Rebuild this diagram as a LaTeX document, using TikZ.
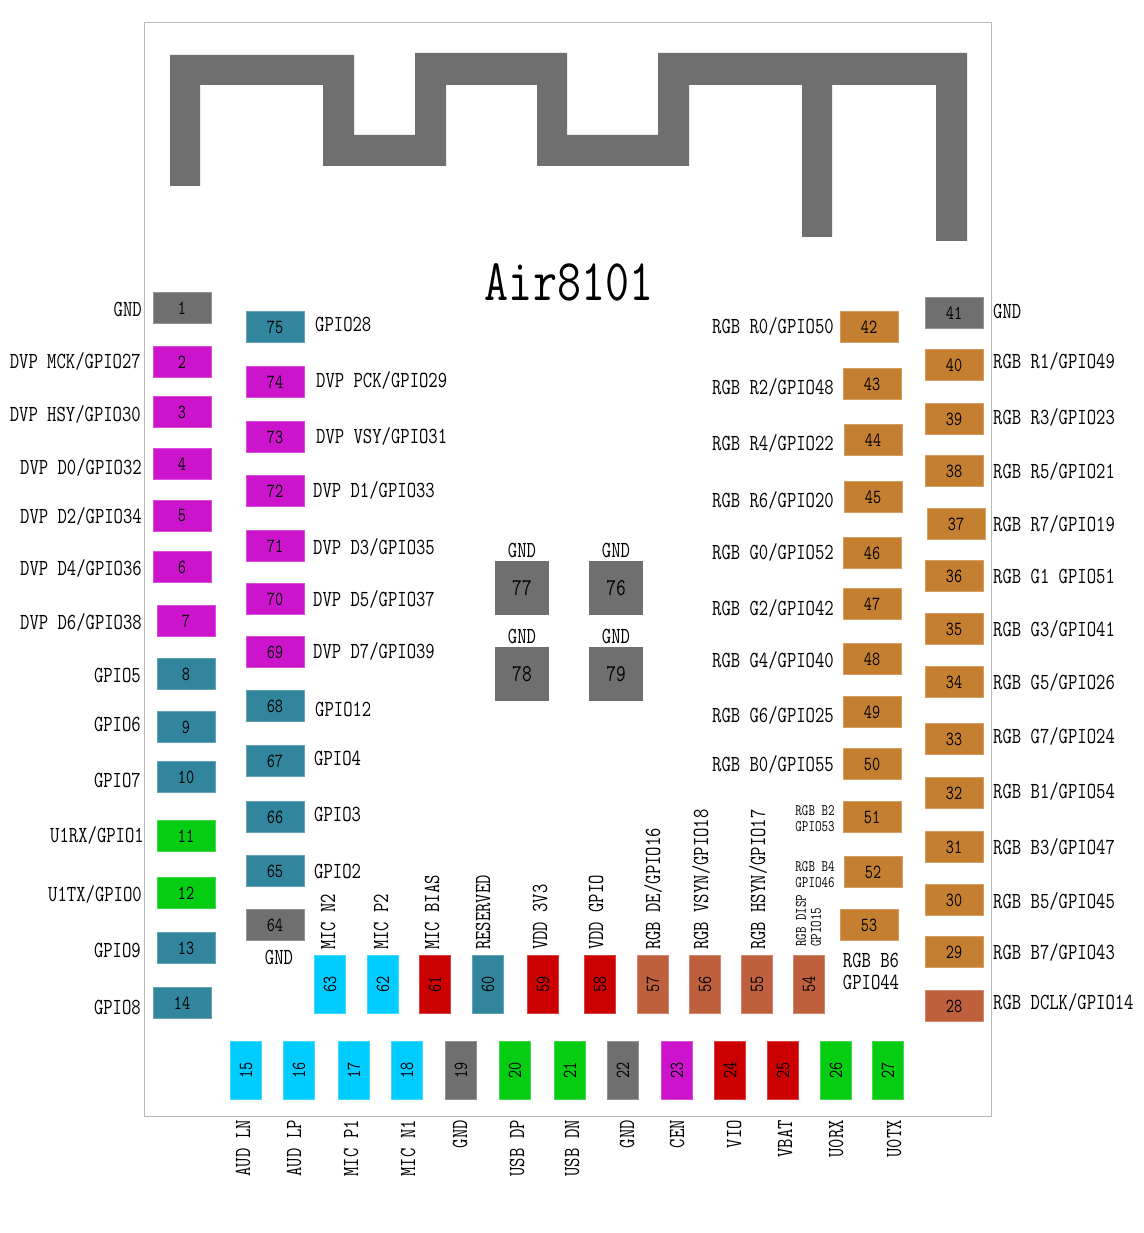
\documentclass[tikz,border=0pt]{standalone}
\usepackage{fontspec}
\newfontfamily\pinfont[FakeStretch=0.79]{Latin Modern Mono}
\definecolor{padgray}{HTML}{6F6F6F}
\definecolor{padpink}{HTML}{CC14CC}
\definecolor{padteal}{HTML}{31859C}
\definecolor{padgreen}{HTML}{04CD12}
\definecolor{padred}{HTML}{CC0000}
\definecolor{padorange}{HTML}{C47F31}
\definecolor{padbrown}{HTML}{BE5F3D}
\definecolor{padcyan}{HTML}{00CCFF}

\begin{document}
\begin{tikzpicture}[
		x=1pt,
		y=-1pt,
		pad/.style={
		  fill=#1,
		  draw=#1!75!white,
		  line width=0.8pt,
		  inner sep=0pt,
		  minimum width=58pt,
		  minimum height=31pt,
		  font=\pinfont\fontsize{20}{20}\selectfont
		  },
		padv/.style={
		  pad=#1,
		  rotate=90
		  },
		bigpad/.style={
		  fill=padgray,
		  inner sep=0pt,
		  minimum size=54pt,
		  font=\pinfont\fontsize{24}{24}\selectfont
		  },
		txt/.style={
		  inner sep=0pt,
		  font=\pinfont\fontsize{23}{23}\selectfont
		  },
		tinytxt/.style={
		  inner sep=0pt,
		  font=\pinfont\fontsize{16}{16}\selectfont
		  }
		]
		\useasboundingbox (0,0) rectangle (1143,1233);
		% module outline and antenna
		\draw[draw=black!28,line width=1pt] (144,23) rectangle (991,1116);
		\fill[padgray] (170,55) -- (354,55) -- (354,135) -- (415,135) -- (415,53) -- (567,53) -- (567,135)
		  -- (658,135) -- (658,53) -- (967,53) -- (967,241) -- (936,241) -- (936,85) -- (832,85) -- (832,237)
		  -- (802,237) -- (802,85) -- (689,85) -- (689,166) -- (537,166) -- (537,85) -- (446,85) -- (446,166)
		  -- (323,166) -- (323,85) -- (200,85) -- (200,186) -- (170,186) -- cycle;
		\node[txt,font=\pinfont\fontsize{59}{59}\selectfont] (title) at (569,282) {Air8101};
		% left side
		\foreach \n/\px/\py/\c/\t/\tx/\ty in {
		  1/182/308/padgray/GND/142/309,
		  2/182/362/padpink/{DVP MCK/GPIO27}/141/361,
		  3/182/412/padpink/{DVP HSY/GPIO30}/141/414,
		  4/182/464/padpink/{DVP D0/GPIO32}/142/467,
		  5/182/516/padpink/{DVP D2/GPIO34}/142/516,
		  6/182/567/padpink/{DVP D4/GPIO36}/142/568,
		  7/186/621/padpink/{DVP D6/GPIO38}/142/622,
		  8/186/674/padteal/GPIO5/141/675,
		  9/186/727/padteal/GPIO6/141/724,
		  10/186/777/padteal/GPIO7/141/780,
		  11/186/836/padgreen/{U1RX/GPIO1}/144/835,
		  12/186/893/padgreen/{U1TX/GPIO0}/142/894,
		  13/186/948/padteal/GPIO9/141/950,
		  14/182/1003/padteal/GPIO8/141/1007}
		{
		  \node[pad=\c] (pin\n) at (\px,\py) {\n};
		  \node[txt,anchor=east] (lbl\n) at (\tx,\ty) {\t};
		}
		% second column
		\foreach \n/\py/\c/\t/\tx/\ty in {
		  75/327/padteal/GPIO28/315/324,
		  74/382/padpink/{DVP PCK/GPIO29}/316/380,
		  73/437/padpink/{DVP VSY/GPIO31}/316/436,
		  72/491/padpink/{DVP D1/GPIO33}/313/490,
		  71/546/padpink/{DVP D3/GPIO35}/313/547,
		  70/599/padpink/{DVP D5/GPIO37}/313/599,
		  69/652/padpink/{DVP D7/GPIO39}/313/651,
		  68/706/padteal/GPIO12/315/709,
		  67/761/padteal/GPIO4/314/758,
		  66/817/padteal/GPIO3/314/814,
		  65/871/padteal/GPIO2/314/871}
		{
		  \node[pad=\c] (pin\n) at (275,\py) {\n};
		  \node[txt,anchor=west] (lbl\n) at (\tx,\ty) {\t};
		}
		\node[pad=padgray] (pin64) at (275,925) {64};
		\node[txt] (lbl64) at (279,957) {GND};
		% third column
		\foreach \n/\px/\py/\t/\ty in {
		  42/869/327/{RGB R0/GPIO50}/326,
		  43/872/384/{RGB R2/GPIO48}/387,
		  44/873/440/{RGB R4/GPIO22}/443,
		  45/873/497/{RGB R6/GPIO20}/500,
		  46/872/553/{RGB G0/GPIO52}/552,
		  47/872/604/{RGB G2/GPIO42}/608,
		  48/872/659/{RGB G4/GPIO40}/660,
		  49/872/712/{RGB G6/GPIO25}/715,
		  50/872/764/{RGB B0/GPIO55}/764}
		{
		  \node[pad=padorange] (pin\n) at (\px,\py) {\n};
		  \node[txt,anchor=east] (lbl\n) at (834,\ty) {\t};
		}
		\node[pad=padorange] (pin51) at (872,817) {51};
		\node[pad=padorange] (pin52) at (873,872) {52};
		\node[pad=padorange] (pin53) at (869,925) {53};
		\node[tinytxt] (lbl51a) at (815,811) {RGB B2};
		\node[tinytxt] (lbl51b) at (815,827) {GPIO53};
		\node[tinytxt] (lbl52a) at (815,867) {RGB B4};
		\node[tinytxt] (lbl52b) at (815,883) {GPIO46};
		\node[txt] (lbl53a) at (871,960) {RGB B6};
		\node[txt] (lbl53b) at (871,982) {GPIO44};
		% right side
		\foreach \n/\px/\py/\c/\t/\ty in {
		  41/954/313/padgray/GND/311,
		  40/954/365/padorange/{RGB R1/GPIO49}/361,
		  39/954/419/padorange/{RGB R3/GPIO23}/417,
		  38/954/471/padorange/{RGB R5/GPIO21}/471,
		  37/956/524/padorange/{RGB R7/GPIO19}/524,
		  36/954/576/padorange/{RGB G1 GPIO51}/576,
		  35/954/629/padorange/{RGB G3/GPIO41}/629,
		  34/954/682/padorange/{RGB G5/GPIO26}/682,
		  33/954/739/padorange/{RGB G7/GPIO24}/736,
		  32/954/793/padorange/{RGB B1/GPIO54}/791,
		  31/954/847/padorange/{RGB B3/GPIO47}/847,
		  30/954/900/padorange/{RGB B5/GPIO45}/901,
		  29/954/952/padorange/{RGB B7/GPIO43}/952,
		  28/954/1006/padbrown/{RGB DCLK/GPIO14}/1002}
		{
		  \node[pad=\c] (pin\n) at (\px,\py) {\n};
		  \node[txt,anchor=west] (lbl\n) at (993,\ty) {\t};
		}
		% inner bottom row
		\foreach \n/\px/\c/\t/\tx in {
		  63/330/padcyan/{MIC N2}/328,
		  62/383/padcyan/{MIC P2}/381,
		  61/435/padred/{MIC BIAS}/432,
		  60/488/padteal/RESERVED/483,
		  59/543/padred/{VDD 3V3}/540,
		  58/600/padred/{VDD GPIO}/596,
		  57/653/padbrown/{RGB DE/GPIO16}/653,
		  56/705/padbrown/{RGB VSYN/GPIO18}/701,
		  55/757/padbrown/{RGB HSYN/GPIO17}/758}
		{
		  \node[padv=\c] (pin\n) at (\px,984) {\n};
		  \node[txt,rotate=90,anchor=west] (lbl\n) at (\tx,950) {\t};
		}
		\node[padv=padbrown] (pin54) at (809,984) {54};
		\node[tinytxt,rotate=90,anchor=west] (lbl54a) at (801,947) {RGB DISP};
		\node[tinytxt,rotate=90,anchor=west] (lbl54b) at (816,947) {GPIO15};
		% outer bottom row
		\foreach \n/\px/\c/\t/\tx in {
		  15/246/padcyan/{AUD LN}/243,
		  16/299/padcyan/{AUD LP}/294,
		  17/354/padcyan/{MIC P1}/351,
		  18/407/padcyan/{MIC N1}/408,
		  19/461/padgray/GND/460,
		  20/515/padgreen/{USB DP}/517,
		  21/570/padgreen/{USB DN}/572,
		  22/623/padgray/GND/627,
		  23/677/padpink/CEN/677,
		  24/730/padred/VIO/734,
		  25/783/padred/VBAT/785,
		  26/836/padgreen/U0RX/836,
		  27/888/padgreen/U0TX/894}
		{
		  \node[padv=\c] (pin\n) at (\px,1070) {\n};
		  \node[txt,rotate=90,anchor=east] (lbl\n) at (\tx,1120) {\t};
		}
		% centre pads
		\foreach \n/\px/\py in {76/616/588,77/522/588,78/522/674,79/616/674}
		{
		  \node[bigpad] (pin\n) at (\px,\py) {\n};
		  \node[txt] (lbl\n) at (\px,\py-38) {GND};
		}
	\end{tikzpicture}
\end{document}
